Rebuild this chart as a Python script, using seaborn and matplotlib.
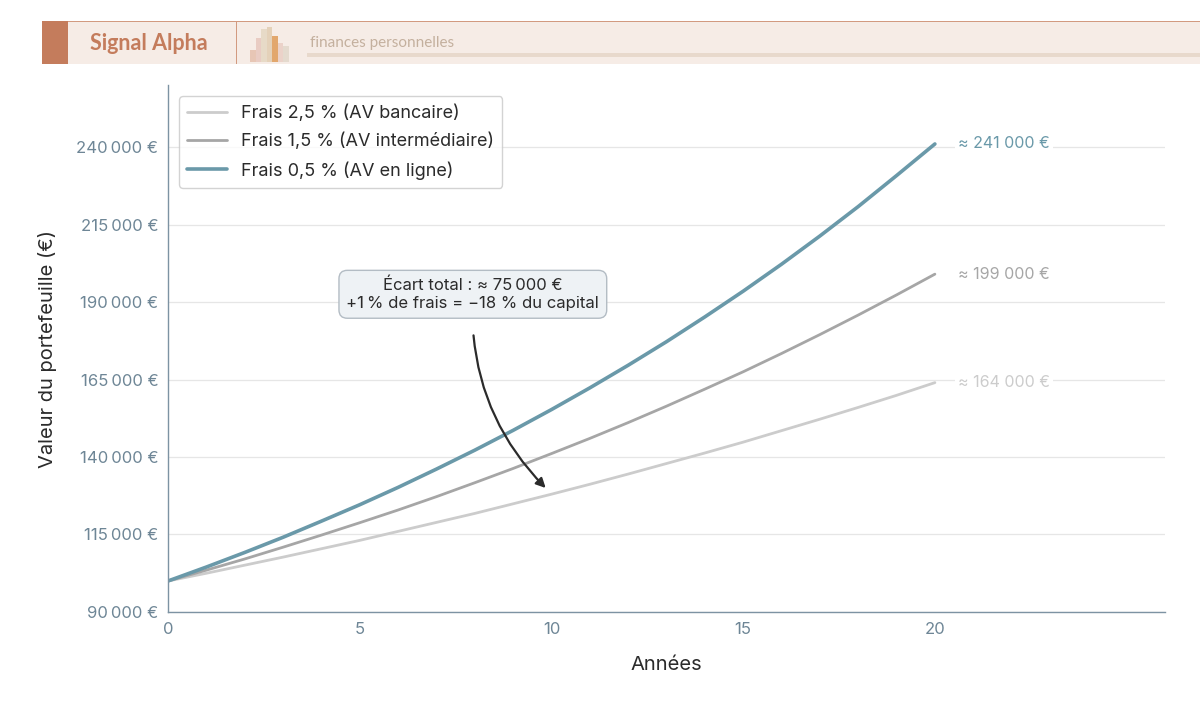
import matplotlib
matplotlib.use("Agg")
import matplotlib.pyplot as plt
import matplotlib.patches as mpatches
import matplotlib.ticker as mticker
import numpy as np
import pandas as pd
import seaborn as sns

# valeurs (en milliers d'euros)
years = list(range(21))
frais_25 = [100, 102.5, 105.1, 107.7, 110.4, 113.1, 116.0, 118.9, 121.8, 124.9, 128.0,
            131.2, 134.5, 137.9, 141.3, 144.8, 148.5, 152.2, 156.0, 159.9, 164.0]
frais_15 = [100, 103.5, 107.1, 110.9, 114.8, 118.8, 122.9, 127.2, 131.7, 136.3, 141.1,
            146.0, 151.1, 156.4, 161.9, 167.5, 173.4, 179.5, 185.8, 192.3, 199.0]
frais_05 = [100, 104.5, 109.2, 114.1, 119.3, 124.6, 130.2, 136.1, 142.2, 148.6, 155.3,
            162.3, 169.6, 177.2, 185.2, 193.5, 202.2, 211.3, 220.8, 230.8, 241.0]
labels = ["Frais 2,5 % (AV bancaire)", "Frais 1,5 % (AV intermédiaire)", "Frais 0,5 % (AV en ligne)"]
end_labels = ["≈ 164 000 €", "≈ 199 000 €", "≈ 241 000 €"]
colors = ["#cccccc", "#a6a6a6", "#6a99a9"]
widths = [2.0, 2.0, 2.6]
y_ticks = [90000, 115000, 140000, 165000, 190000, 215000, 240000]
x_ticks = [0, 5, 10, 15, 20]
logo_bars = [0.35, 0.7, 0.95, 1.0, 0.75, 0.55, 0.45]

df = pd.DataFrame({"annee": years * 3,
                   "valeur": [v * 1000 for v in frais_25 + frais_15 + frais_05],
                   "scenario": [labels[0]] * 21 + [labels[1]] * 21 + [labels[2]] * 21})

sns.set_theme(style="white")
plt.rcParams['font.family'] = ['Inter', 'DejaVu Sans']

fig = plt.figure(figsize=(12, 7.21), dpi=100)
ax = fig.add_axes([0.14, 0.1512, 0.8308, 0.7308])

sns.lineplot(data=df, x="annee", y="valeur", hue="scenario", hue_order=labels,
             palette=colors, ax=ax, legend=False)
for line, w in zip(ax.get_lines(), widths):
    line.set_linewidth(w)

ax.set_xlim(0, 26)
ax.set_ylim(90000, 260000)
ax.set_xticks(x_ticks)
ax.set_yticks(y_ticks)
ax.yaxis.set_major_formatter(mticker.FuncFormatter(
    lambda v, p: f"{int(v):,} €".replace(",", "\u202f")))
ax.tick_params(axis="both", colors="#6e8696", labelsize=12, length=0, pad=7)
ax.grid(axis="y", color="#e6e6e6", linewidth=0.9)
ax.set_axisbelow(True)
for s in ["top", "right"]:
    ax.spines[s].set_visible(False)
for s in ["left", "bottom"]:
    ax.spines[s].set_color("#7d93a3")
    ax.spines[s].set_linewidth(1.0)
ax.set_xlabel("Années", fontsize=14.5, color="#2b2b2b", labelpad=14)
ax.set_ylabel("Valeur du portefeuille (€)", fontsize=14.5, color="#2b2b2b", labelpad=14)

handles = [plt.Line2D([], [], color=c, lw=w) for c, w in zip(colors, widths)]
leg = ax.legend(handles, labels, loc="upper left", bbox_to_anchor=(0.002, 0.996),
                fontsize=13, frameon=True, handlelength=2.2, borderpad=0.45,
                labelspacing=0.6)
leg.get_frame().set_edgecolor("#c8c8c8")
for t in leg.get_texts():
    t.set_color("#2b2b2b")

series = [frais_25, frais_15, frais_05]
for vals, lab, c in zip(series, end_labels, colors):
    ax.text(years[-1] + 0.6, vals[-1] * 1000, lab, color=c, fontsize=11.5, va="center",
            ha="left", bbox=dict(boxstyle="square,pad=0.2", fc="white", ec="none"))

ax.annotate("Écart total : ≈ 75\u202f000 €\n+1\u202f% de frais = \u221218 % du capital",
            xy=(9.85, 130000), xytext=(7.95, 192500), ha="center", va="center",
            fontsize=12, color="#2b2b2b",
            bbox=dict(boxstyle="round,pad=0.45,rounding_size=0.5", fc="#eef2f5", ec="#b3bcc4"),
            arrowprops=dict(arrowstyle="-|>", color="#2b2b2b", lw=1.6,
                            connectionstyle="arc3,rad=0.22", shrinkA=12, shrinkB=0,
                            mutation_scale=14))

# bandeau d'en-tête
H = 721.0
W = 1200.0
fig.add_artist(mpatches.Rectangle((42 / W, 1 - 64 / H), 1 - 42 / W, 43 / H,
                                  transform=fig.transFigure, fc="#f6ece6", ec="none"))
fig.add_artist(mpatches.Rectangle((42 / W, 1 - 22 / H), 1 - 42 / W, 1.2 / H,
                                  transform=fig.transFigure, fc="#d29a80", ec="none"))
fig.add_artist(mpatches.Rectangle((42 / W, 1 - 64 / H), 26 / W, 43 / H,
                                  transform=fig.transFigure, fc="#c47c5c", ec="none"))
fig.add_artist(mpatches.Rectangle((236 / W, 1 - 64 / H), 1.2 / W, 43 / H,
                                  transform=fig.transFigure, fc="#d29a80", ec="none"))
fig.add_artist(mpatches.Rectangle((307 / W, 1 - 57 / H), 1 - 307 / W, 4 / H,
                                  transform=fig.transFigure, fc="#e8d9cc", ec="none"))
logo_cols = ["#e6c2b0", "#e8c9c0", "#e6d8c4", "#e2cfb4", "#e0a060", "#ead0c6", "#e3d9cc"]
for i, (h, c) in enumerate(zip(logo_bars, logo_cols)):
    fig.add_artist(mpatches.Rectangle(((250 + i * 5.5) / W, 1 - 62 / H), 5.5 / W, h * 35 / H,
                                      transform=fig.transFigure, fc=c, ec="none", alpha=0.9))
fig.text(90 / W, 1 - 43 / H, "Signal Alpha", fontsize=15.5, fontweight="bold",
         color="#c47c5c", va="center", family=["Lato", "DejaVu Sans"])
fig.text(310 / W, 1 - 43 / H, "finances personnelles", fontsize=11,
         color="#c4b09e", va="center", family=["Lato", "DejaVu Sans"])

fig.savefig("out.png", dpi=100)
